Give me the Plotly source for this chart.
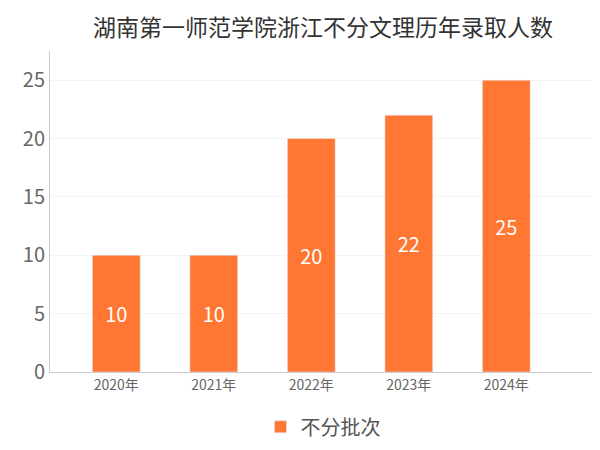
import plotly.graph_objects as go

years = ["2020年", "2021年", "2022年", "2023年", "2024年"]
values = [10, 10, 20, 22, 25]

fig = go.Figure(go.Bar(
    x=years, y=values, name="不分批次", marker_color="#FF7733",
    text=values, textposition="inside", insidetextanchor="middle",
    textfont=dict(color="white", size=20), width=0.49, showlegend=True))
fig.update_layout(
    width=600, height=450, paper_bgcolor="white", plot_bgcolor="white",
    font=dict(family="Noto Sans CJK SC"),
    title=dict(text="湖南第一师范学院浙江不分文理历年录取人数", x=0.5, y=0.955,
               xref="paper", yref="container", xanchor="center", yanchor="middle",
               font=dict(size=23, color="#333")),
    margin=dict(l=42, r=12, t=43, b=75),
    legend=dict(orientation="h", x=0.5, xanchor="center", y=-0.11, yanchor="top",
                font=dict(size=20, color="#555")),
    xaxis=dict(range=[-0.68, 4.92], showline=True, linecolor="#ccc",
               tickfont=dict(size=14, color="#666")),
    yaxis=dict(range=[0, 27.5], dtick=5, showgrid=True, gridcolor="#f4f4f4",
               showline=True, linecolor="#ccc", tickfont=dict(size=20, color="#666"),
               zeroline=False),
)
fig.write_html("out.html")
